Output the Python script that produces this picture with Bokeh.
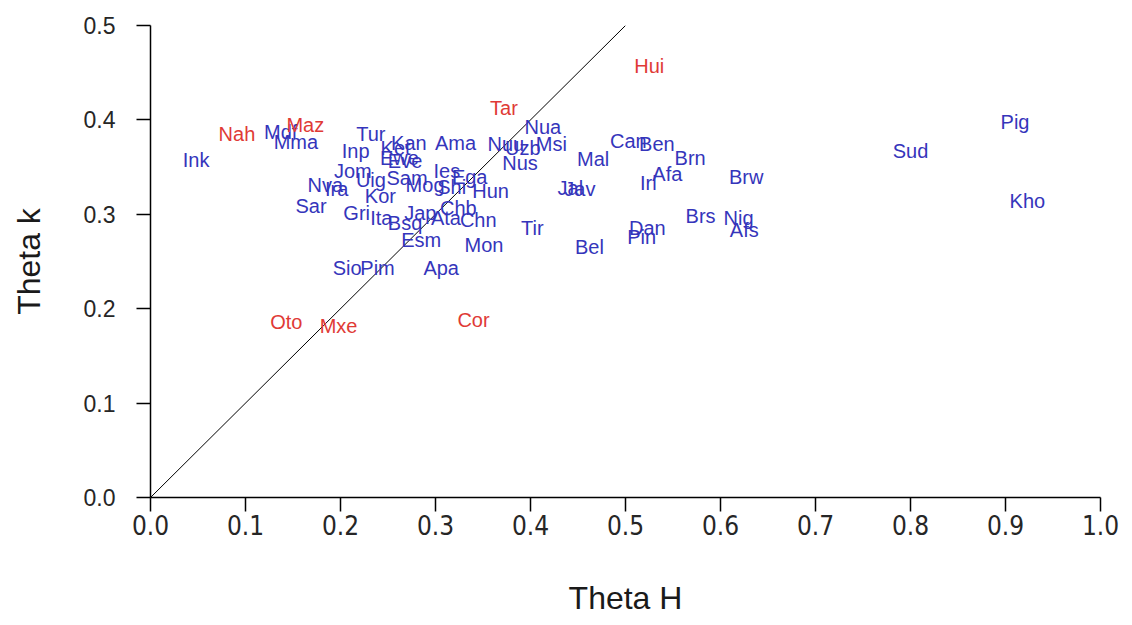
from bokeh.plotting import figure
from bokeh.models import ColumnDataSource, FixedTicker, PrintfTickFormatter, Range1d
from bokeh.core.properties import value
from bokeh.embed import file_html
from bokeh.resources import INLINE

# Languages shown in red
red_names = ["Hui", "Tar", "Nah", "Maz", "Oto", "Mxe", "Cor"]
red_h = [0.525, 0.372, 0.091, 0.163, 0.143, 0.198, 0.340]
red_k = [0.457, 0.413, 0.385, 0.395, 0.186, 0.182, 0.188]

# Languages shown in blue
blue_names = ["Ink", "Mdf", "Mma", "Tur", "Inp", "Kan", "Ket", "Eve", "Ewe", "Ama",
              "Nua", "Nuu", "Uzb", "Msi", "Nus", "Mal", "Can", "Ben", "Brn", "Afa",
              "Irl", "Jal", "Jav", "Hun", "Brw", "Brs", "Nig", "Afs", "Dan", "Pin",
              "Bel", "Tir", "Mon", "Apa", "Pim", "Sio", "Esm", "Chn", "Chb", "Jap",
              "Ita", "Bsq", "Ata", "Gri", "Sar", "Kor", "Nva", "Ira", "Jom", "Uig",
              "Sam", "Mog", "Ies", "Ega", "Shi", "Sud", "Pig", "Kho"]
blue_h = [0.048, 0.137, 0.153, 0.232, 0.216, 0.272, 0.258, 0.268, 0.262, 0.321,
          0.413, 0.374, 0.392, 0.422, 0.389, 0.466, 0.503, 0.533, 0.568, 0.544,
          0.524, 0.442, 0.452, 0.358, 0.627, 0.579, 0.619, 0.625, 0.523, 0.517,
          0.462, 0.402, 0.351, 0.306, 0.239, 0.207, 0.285, 0.345, 0.324, 0.284,
          0.243, 0.268, 0.311, 0.217, 0.169, 0.242, 0.184, 0.196, 0.213, 0.232,
          0.270, 0.289, 0.312, 0.336, 0.317, 0.800, 0.910, 0.923]
blue_k = [0.358, 0.387, 0.377, 0.385, 0.367, 0.376, 0.370, 0.356, 0.360, 0.376,
          0.392, 0.374, 0.370, 0.374, 0.354, 0.359, 0.378, 0.374, 0.360, 0.343,
          0.333, 0.328, 0.327, 0.325, 0.340, 0.298, 0.296, 0.283, 0.286, 0.276,
          0.265, 0.286, 0.268, 0.243, 0.243, 0.243, 0.273, 0.294, 0.307, 0.301,
          0.296, 0.291, 0.296, 0.301, 0.309, 0.319, 0.331, 0.327, 0.346, 0.336,
          0.338, 0.331, 0.346, 0.340, 0.329, 0.367, 0.398, 0.314]

# Reference diagonal Theta k = Theta H
diag_h = [0.0, 0.5]
diag_k = [0.0, 0.5]

x_ticks = [0.0, 0.1, 0.2, 0.3, 0.4, 0.5, 0.6, 0.7, 0.8, 0.9, 1.0]
y_ticks = [0.0, 0.1, 0.2, 0.3, 0.4, 0.5]

FONT = "Liberation Sans"
NARROW = "'Liberation Sans Narrow', 'DejaVu Sans Condensed', 'Liberation Sans'"

p = figure(width=1132, height=625, output_backend="svg", toolbar_location=None,
           x_range=Range1d(0, 1.0), y_range=Range1d(0, 0.5))
p.min_border_left = 150
p.min_border_right = 32
p.min_border_top = 25
p.min_border_bottom = 128
p.outline_line_color = None
p.grid.visible = False
p.background_fill_color = "white"
p.border_fill_color = "white"

p.line(diag_h, diag_k, line_color="black", line_width=1)

blue_src = ColumnDataSource(dict(x=blue_h, y=blue_k, t=blue_names))
red_src = ColumnDataSource(dict(x=red_h, y=red_k, t=red_names))
p.text("x", "y", text="t", source=blue_src, text_color="#3535bb",
       text_font=value(FONT), text_font_size="20px",
       text_align="center", text_baseline="middle")
p.text("x", "y", text="t", source=red_src, text_color="#e03a36",
       text_font=value(FONT), text_font_size="20px",
       text_align="center", text_baseline="middle")

for ax, ticks, label in ((p.xaxis[0], x_ticks, "Theta H"), (p.yaxis[0], y_ticks, "Theta k")):
    ax.ticker = FixedTicker(ticks=ticks)
    ax.formatter = PrintfTickFormatter(format="%.1f")
    ax.axis_label = label
    ax.axis_label_text_font = FONT
    ax.axis_label_text_font_size = "32px"
    ax.axis_label_text_font_style = "normal"
    ax.axis_label_text_color = "#1a1a1a"
    ax.major_label_text_font = FONT
    ax.major_label_text_font_size = "23px"
    ax.major_label_text_color = "#262626"
    ax.axis_line_color = "black"
    ax.axis_line_width = 1.5
    ax.major_tick_line_color = "black"
    ax.major_tick_line_width = 1.5
    ax.major_tick_out = 14
    ax.major_tick_in = 0
    ax.minor_tick_line_color = None

p.xaxis[0].major_label_text_font = NARROW
p.xaxis[0].major_label_text_font_size = "26px"
p.xaxis[0].major_label_standoff = 3
p.xaxis[0].axis_label_standoff = 42
p.yaxis[0].major_label_standoff = 21
p.yaxis[0].axis_label_standoff = 34

open("out.html", "w").write(file_html(p, INLINE))
